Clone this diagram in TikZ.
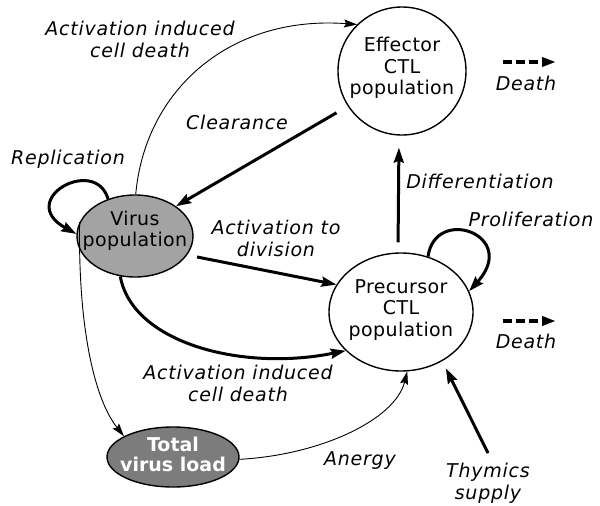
\documentclass[tikz,border=0pt]{standalone}
\usepackage{fontspec}
\setmainfont{DejaVu Sans}
\newfontfamily\lblfont{DejaVu Sans}[LetterSpace=4]
\newfontfamily\popfont{DejaVu Sans}[LetterSpace=2]
\usetikzlibrary{arrows.meta,shapes.geometric}
\definecolor{virusgray}{HTML}{A3A3A3}
\definecolor{loadgray}{HTML}{7C7C7C}
\begin{document}
\begin{tikzpicture}[x=1pt,y=-1pt,
  lbl/.style={font=\lblfont\fontsize{19}{22}\selectfont\itshape, align=center, inner sep=0pt},
  txt/.style={font=\popfont\fontsize{19}{21.5}\selectfont, align=center, inner sep=0pt},
  popn/.style={draw, line width=1.4pt, inner sep=0pt},
  thinarr/.style={line width=0.9pt, -{Stealth[length=13pt,width=8pt,inset=2pt]}},
  thickarr/.style={line width=3pt, -{Stealth[length=15pt,width=10pt,inset=2pt]}},
  deatharr/.style={line width=3.5pt, dash pattern=on 9pt off 4pt, -{Stealth[length=14pt,width=9pt,inset=0pt]}}
]
\useasboundingbox (0,0) rectangle (600,506);

% population nodes
\node[popn, circle, minimum size=128pt,
  label={[txt, yshift=3pt]center:Effector\\CTL\\population}] (eff) at (402,71) {};
\node[popn, ellipse, minimum width=144pt, minimum height=118pt,
  label={[txt, yshift=2pt]center:Precursor\\CTL\\population}] (prec) at (401,312) {};
\node[popn, ellipse, fill=virusgray, minimum width=116pt, minimum height=82pt,
  label={[txt, yshift=5pt]center:Virus\\population}] (vir) at (135,236) {};
\node[popn, ellipse, fill=loadgray, minimum width=132pt, minimum height=60pt,
  label={[txt, font=\fontsize{19}{20}\selectfont\bfseries, text=white, yshift=3pt]center:Total\\virus load}] (tot) at (173,457) {};

% labels
\node[lbl] (laicd1) at (140,39) {Activation induced\\cell death};
\node[lbl] (lclear) at (237,122) {Clearance};
\node[lbl] (lrep) at (68,159) {Replication};
\node[lbl] (lact) at (276,238) {Activation to\\division};
\node[lbl] (ldiff) at (480,181) {Differentiation};
\node[lbl] (lprol) at (531,219) {Proliferation};
\node[lbl] (laicd2) at (238,383) {Activation induced\\cell death};
\node[lbl] (lanergy) at (360,461) {Anergy};
\node[lbl] (lthy) at (488,483) {Thymics\\supply};
\node[lbl] (ldeath1) at (526,83) {Death};
\node[lbl] (ldeath2) at (526,341) {Death};

% death arrows
\coordinate (d1a) at (503,62);
\coordinate (d1b) at (556,62);
\coordinate (d2a) at (503,321);
\coordinate (d2b) at (556,321);
\draw[deatharr] (d1a) -- (d1b);
\draw[deatharr] (d2a) -- (d2b);

% connectors
\draw[thinarr] (vir.89) .. controls (145,90) and (230,15) .. (eff.134);
\draw[thickarr, shorten <=13pt] (eff.213) -- (vir.36);
\draw[thickarr] (vir.126) .. controls (95,155) and (15,200) .. (vir.178);
\draw[thickarr, shorten <=10pt] (vir.-20) -- (prec.157);
\draw[thickarr] (vir.250) .. controls (132,342) and (240,372) .. (prec.215);
\draw[thinarr] (vir.166) .. controls (78,330) and (95,400) .. (tot.157);
\draw[thinarr] (tot.-2) .. controls (320,455) and (395,420) .. (prec.276);
\draw[thickarr, shorten <=10pt, shorten >=12pt] ([xshift=-3pt]prec.north) -- ([xshift=-3pt]eff.south);
\draw[thickarr] (prec.64) .. controls (435,205) and (520,235) .. (prec.17);
\coordinate (thys) at (488,453);
\draw[thickarr, shorten >=8pt] (thys) -- (prec.310);
\end{tikzpicture}
\end{document}
